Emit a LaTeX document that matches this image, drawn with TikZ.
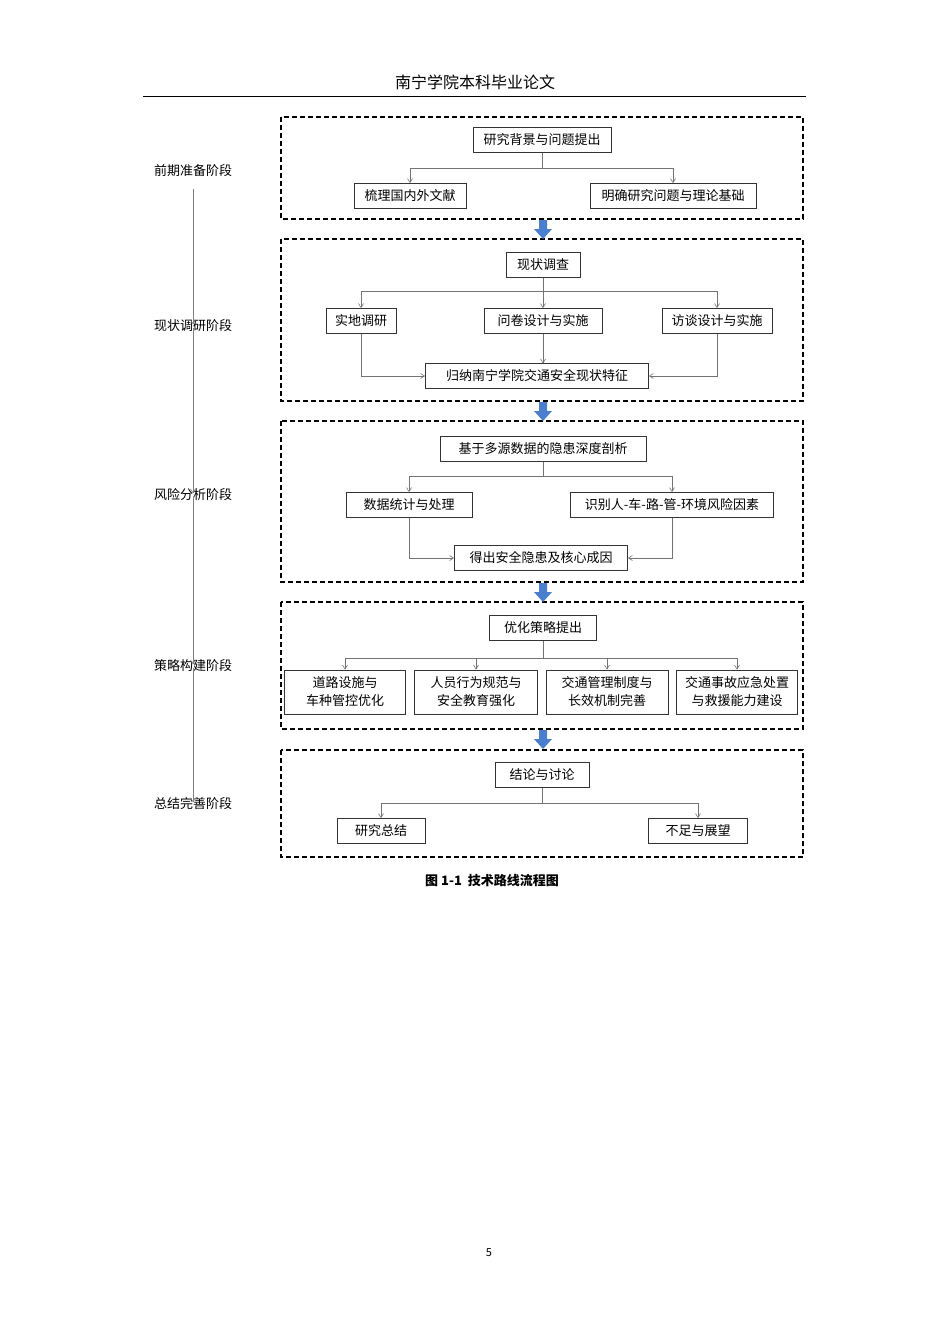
\documentclass[tikz,border=0pt]{standalone}
\usepackage{fontspec}
\setmainfont{Noto Sans CJK SC}
\usetikzlibrary{arrows.meta}
\definecolor{bluearr}{RGB}{74,126,206}
\begin{document}
\begin{tikzpicture}[x=1pt,y=-1pt,
  box/.style={draw=black!80,line width=0.8pt,fill=white,font=\fontsize{13}{15}\selectfont,inner sep=0pt,minimum height=25pt,align=center},
  area/.style={draw=black,line width=1.1pt,dash pattern=on 5pt off 3pt},
  con/.style={draw=black!55,line width=0.6pt,-{Straight Barb[length=4pt,width=5pt]}},
  lab/.style={font=\fontsize{13}{15}\selectfont},
  side/.style={draw=black!50,line width=0.6pt,-{Straight Barb[length=4pt,width=5pt]}}]
\useasboundingbox (0,0) rectangle (950,1344);
\node[font=\fontsize{16}{18}\selectfont] (hdr) at (475,82) {南宁学院本科毕业论文};
\draw[line width=0.6pt] (143,96) -- (806,96);
\node[font=\fontsize{11}{13}\selectfont] (pg) at (489,1253) {5};
% stage labels
\node[lab] (s1) at (193,171) {前期准备阶段};
\node[lab] (s2) at (193,326) {现状调研阶段};
\node[lab] (s3) at (193,495) {风险分析阶段};
\node[lab] (s4) at (193,666) {策略构建阶段};
\node[lab] (s5) at (193,804) {总结完善阶段};
\draw[side] (s1.south) ++(0,8) coordinate (a1) (a1) -- ([yshift=-8pt]s2.north);
\draw[side] ([yshift=8pt]s2.south) -- ([yshift=-8pt]s3.north);
\draw[side] ([yshift=8pt]s3.south) -- ([yshift=-8pt]s4.north);
\draw[side] ([yshift=8pt]s4.south) -- ([yshift=-8pt]s5.north);
% areas
\draw[area] (281,117) rectangle (803,219);
\draw[area] (281,239) rectangle (803,401);
\draw[area] (281,421) rectangle (803,582);
\draw[area] (281,602) rectangle (803,729);
\draw[area] (281,750) rectangle (803,857);
% blue arrows
\foreach \y in {219,401,582,729}{
  \fill[bluearr] (539,\y+1) -- (547,\y+1) -- (547,\y+10) -- (552,\y+10) -- (543,\y+20) -- (534,\y+10) -- (539,\y+10) -- cycle;}
% box1
\node[box,minimum width=138pt] (b1) at (542,140) {研究背景与问题提出};
\node[box,minimum width=112pt] (b1l) at (410,196) {梳理国内外文献};
\node[box,minimum width=166pt] (b1r) at (673,196) {明确研究问题与理论基础};
\draw[con] (b1.south) |- (410,168) -- (b1l.north);
\draw[con] (b1.south) |- (673,168) -- (b1r.north);
% box2
\node[box,minimum width=74pt] (b2) at (543,265) {现状调查};
\node[box,minimum width=70pt] (b2a) at (361,321) {实地调研};
\node[box,minimum width=118pt] (b2b) at (543,321) {问卷设计与实施};
\node[box,minimum width=110pt] (b2c) at (717,321) {访谈设计与实施};
\node[box,minimum width=223pt] (b2d) at (537,376) {归纳南宁学院交通安全现状特征};
\draw[con] (b2.south) |- (361,291) -- (b2a.north);
\draw[con] (b2.south) -- (b2b.north);
\draw[con] (b2.south) |- (717,291) -- (b2c.north);
\draw[con] (b2b.south) -- (543,363.5);
\draw[con] (b2a.south) |- (b2d.west);
\draw[con] (b2c.south) |- (b2d.east);
% box3
\node[box,minimum width=206pt] (b3) at (543,449) {基于多源数据的隐患深度剖析};
\node[box,minimum width=126pt] (b3a) at (409,505) {数据统计与处理};
\node[box,minimum width=203pt] (b3b) at (672,505) {识别人-车-路-管-环境风险因素};
\node[box,minimum width=173pt] (b3c) at (541,558) {得出安全隐患及核心成因};
\draw[con] (b3.south) |- (409,476) -- (b3a.north);
\draw[con] (b3.south) |- (672,476) -- (b3b.north);
\draw[con] (b3a.south) |- (b3c.west);
\draw[con] (b3b.south) |- (b3c.east);
% box4
\node[box,minimum width=107pt] (b4) at (543,628) {优化策略提出};
\node[box,minimum width=121pt,minimum height=44pt,font=\fontsize{13}{18}\selectfont] (b4a) at (345,692) {道路设施与\\车种管控优化};
\node[box,minimum width=123pt,minimum height=44pt,font=\fontsize{13}{18}\selectfont] (b4b) at (476,692) {人员行为规范与\\安全教育强化};
\node[box,minimum width=122pt,minimum height=44pt,font=\fontsize{13}{18}\selectfont] (b4c) at (607,692) {交通管理制度与\\长效机制完善};
\node[box,minimum width=121pt,minimum height=44pt,font=\fontsize{13}{18}\selectfont] (b4d) at (737,692) {交通事故应急处置\\与救援能力建设};
\foreach \n in {b4a,b4b,b4c,b4d}{\draw[con] (b4.south) |- (\n.north |- 0,658) -- (\n.north);}
% box5
\node[box,minimum width=94pt] (b5) at (542,775) {结论与讨论};
\node[box,minimum width=88pt] (b5a) at (381,831) {研究总结};
\node[box,minimum width=99pt] (b5b) at (698,831) {不足与展望};
\draw[con] (b5.south) |- (381,803) -- (b5a.north);
\draw[con] (b5.south) |- (698,803) -- (b5b.north);
\node[font=\bfseries\fontsize{13}{15}\selectfont] (cap) at (492,881) {图 1-1\ \ 技术路线流程图};
\end{tikzpicture}
\end{document}
